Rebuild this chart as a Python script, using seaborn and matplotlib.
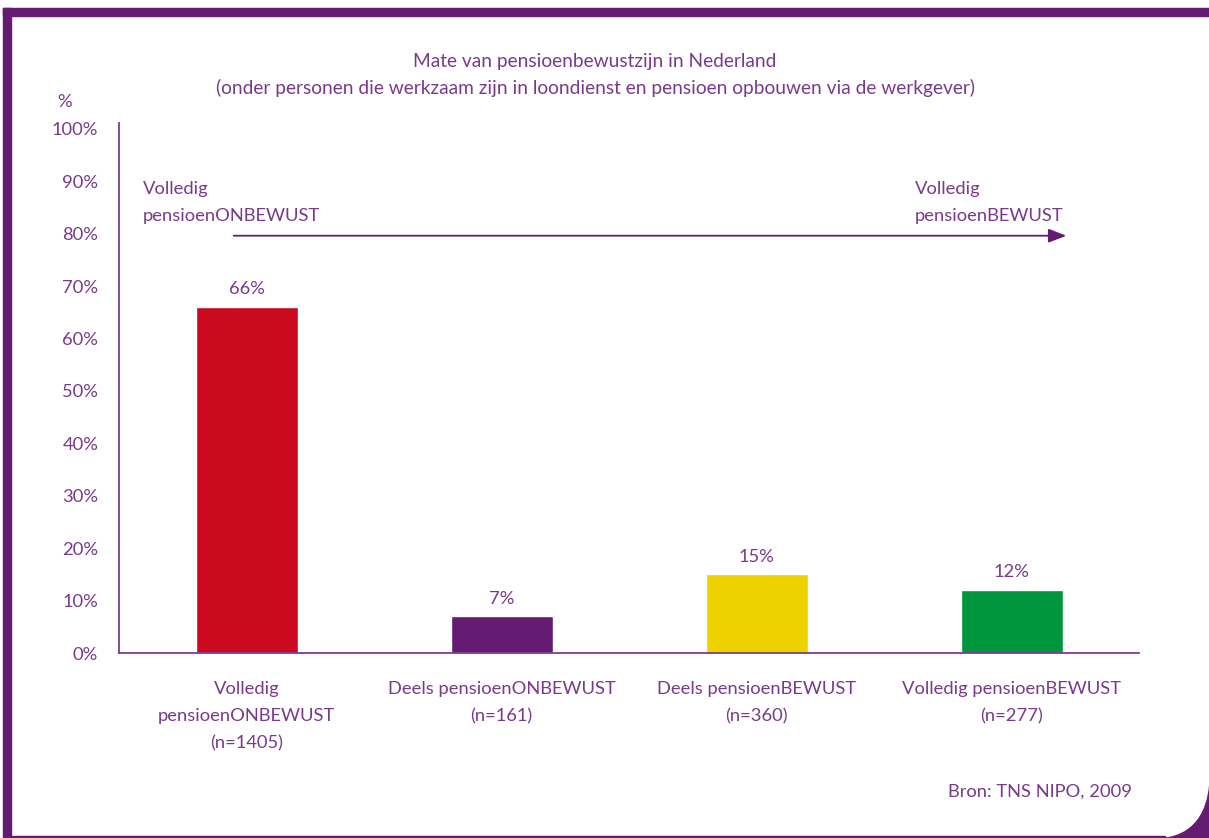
import matplotlib
matplotlib.use("Agg")
import matplotlib.pyplot as plt
from matplotlib.patches import Rectangle, PathPatch
from matplotlib.path import Path
import seaborn as sns
import pandas as pd

# Data
categories = ["Volledig\npensioenONBEWUST\n(n=1405)",
              "Deels pensioenONBEWUST\n(n=161)",
              "Deels pensioenBEWUST\n(n=360)",
              "Volledig pensioenBEWUST\n(n=277)"]
percentages = [66, 7, 15, 12]
bar_colors = ["#cc0a1f", "#661b73", "#edd200", "#00963b"]
yticks = [0, 10, 20, 30, 40, 50, 60, 70, 80, 90, 100]

title_lines = ["Mate van pensioenbewustzijn in Nederland",
               "(onder personen die werkzaam zijn in loondienst en pensioen opbouwen via de werkgever)"]
source = "Bron: TNS NIPO, 2009"
left_note = "Volledig\npensioenONBEWUST"
right_note = "Volledig\npensioenBEWUST"

TXT = "#7a3a8c"
AXC = "#7d3d8d"
FRAME = "#661b73"
FS = 13.2

sns.set_theme(style="white")
plt.rcParams["font.family"] = ["Lato", "DejaVu Sans"]

df = pd.DataFrame({"cat": categories, "pct": percentages})

W, H = 1209, 838
fig = plt.figure(figsize=(W / 100, H / 100), dpi=100)
ax = fig.add_axes([119 / W, 1 - 653 / H, (1139 - 119) / W, (653 - 123) / H])

sns.barplot(data=df, x="cat", y="pct", hue="cat", palette=bar_colors,
            width=0.4, legend=False, ax=ax, saturation=1)

ax.set_xlim(-0.5, 3.5)
ax.set_ylim(0, 101.1)
ax.set_yticks(yticks)
ax.set_yticklabels([f"{v}%" for v in yticks], color=TXT, fontsize=FS)
ax.tick_params(axis="y", length=0, pad=15)
ax.tick_params(axis="x", length=0, pad=20)
ax.set_xticks(range(len(categories)))
ax.set_xticklabels(categories, color=TXT, fontsize=FS, linespacing=1.85)
ax.set_xlabel("")
ax.set_ylabel("")

for side in ["top", "right"]:
    ax.spines[side].set_visible(False)
for side in ["left", "bottom"]:
    ax.spines[side].set_color(AXC)
    ax.spines[side].set_linewidth(1.3)

# value labels above bars
for i, v in enumerate(percentages):
    ax.annotate(f"{v}%", (i, v), xytext=(0, 7), textcoords="offset points",
                ha="center", va="bottom", color=TXT, fontsize=FS)

# awareness arrow
ax.annotate("", xy=(3.215, 79.6), xytext=(-0.05, 79.6),
            arrowprops=dict(arrowstyle="-|>,head_length=0.9,head_width=0.35",
                            color=FRAME, lw=1.3, shrinkA=0, shrinkB=0))
ax.text(-0.405, 81.9, left_note, color=TXT, fontsize=FS, ha="left",
        va="bottom", linespacing=1.85)
ax.text(2.62, 81.9, right_note, color=TXT, fontsize=FS, ha="left",
        va="bottom", linespacing=1.85)

# "%" unit above the axis
fig.text(65 / W, 1 - 102 / H, "%", color=TXT, fontsize=FS, ha="center",
         va="center")

# titles
fig.text(595 / W, 1 - 61 / H, title_lines[0], color=TXT, fontsize=13.8,
         ha="center", va="center")
fig.text(595 / W, 1 - 88 / H, title_lines[1], color=TXT, fontsize=13.8,
         ha="center", va="center")

fig.text(1132 / W, 1 - 792 / H, source, color=TXT, fontsize=FS,
         ha="right", va="center")

# frame around the chart
def fx(px):
    return px / W

def fy(py):
    return 1 - py / H

fig.patches.append(Rectangle((fx(3), fy(16)), 1 - fx(3), 8 / H,
                             transform=fig.transFigure, color=FRAME, zorder=5))
fig.patches.append(Rectangle((fx(3), 0), 8 / W, fy(8),
                             transform=fig.transFigure, color=FRAME, zorder=5))
fig.patches.append(Rectangle((fx(11), 0), (1165 - 11) / W, 2 / H,
                             transform=fig.transFigure, color=FRAME, zorder=5))

corner = Path([(fx(1160), fy(838)),
               (fx(1195), fy(836)), (fx(1207), fy(810)), (fx(1209), fy(785)),
               (fx(1209), fy(838)),
               (fx(1160), fy(838))],
              [Path.MOVETO, Path.CURVE4, Path.CURVE4, Path.CURVE4,
               Path.LINETO, Path.CLOSEPOLY])
fig.patches.append(PathPatch(corner, transform=fig.transFigure,
                             facecolor=FRAME, edgecolor="none", zorder=5))

fig.savefig("out.png", dpi=100)
